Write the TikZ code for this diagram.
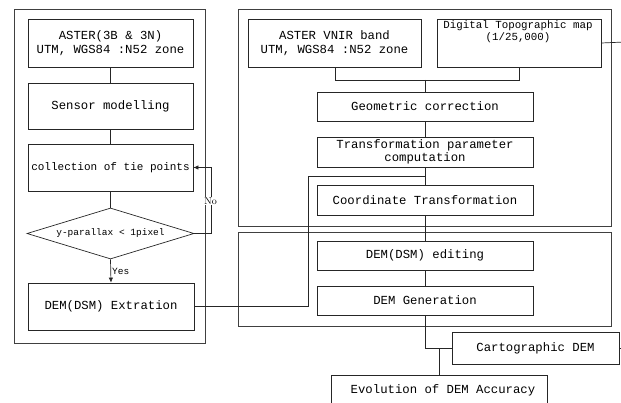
\documentclass[tikz,border=0pt]{standalone}
\usepackage{fontspec}
\setmonofont{Liberation Mono}
\usetikzlibrary{shapes.geometric,arrows.meta}
\begin{document}
\begin{tikzpicture}[x=1pt,y=-1pt,
  ln/.style={draw=black!85,line width=0.7pt},
  box/.style={ln,rectangle,inner sep=0pt,font=\ttfamily\fontsize{12.3}{14}\selectfont,align=center},
  frame/.style={draw=black!75,line width=0.8pt,rectangle,inner sep=0pt},
  lbl/.style={font=\ttfamily\fontsize{9.5}{11}\selectfont,inner sep=1pt},
  arr/.style={ln,-{Latex[length=5pt,width=4.5pt]}}]
\useasboundingbox (0,0) rectangle (621,403);
\begin{scope}
\clip (0,0) rectangle (621,403);
% frames
\node[frame,minimum width=191pt,minimum height=334pt] (fl) at (109.5,176) {};
\node[frame,minimum width=373pt,minimum height=217pt] (fu) at (424.5,117.5) {};
\node[frame,minimum width=373pt,minimum height=94pt] (fd) at (424.5,279) {};
% left column
\node[box,minimum width=165pt,minimum height=48pt] (a1) at (110.5,43) {ASTER(3B \& 3N)\\UTM, WGS84 :N52 zone};
\node[box,minimum width=165pt,minimum height=46pt] (a2) at (110.5,106) {Sensor modelling};
\node[box,minimum width=165pt,minimum height=47pt,font=\ttfamily\fontsize{11}{13}\selectfont] (a3) at (110.5,167.5) {collection of tie points};
\node[ln,diamond,aspect=3.27,inner sep=0pt,minimum width=167pt,minimum height=51pt,font=\ttfamily\fontsize{9.5}{11}\selectfont] (dg) at (110.5,233.5) {y-parallax < 1pixel};
\node[box,minimum width=166pt,minimum height=47pt] (a5) at (111,306.5) {DEM(DSM) Extration};
\draw[ln] (a1.south) -- (a2.north);
\draw[ln] (a2.south) -- (a3.north);
\draw[ln] (a3.south) -- (dg.north);
\draw[arr] (dg.south) -- node[lbl,anchor=west,pos=0.5] (yes) {Yes} (a5.north);
\coordinate (nr) at (211,233.5);
\draw[arr] (dg.east) -- (nr) |- (a3.east);
\node[lbl,fill=white,font=\rmfamily\fontsize{10}{11}\selectfont,inner sep=0.5pt] (no) at (210.5,201) {No};
% right column
\node[box,minimum width=173pt,minimum height=48pt] (r1) at (334.5,43) {ASTER VNIR band\\UTM, WGS84 :N52 zone};
\node[box,minimum width=164pt,minimum height=48pt] (r2) at (519,43) {};
\node[font=\ttfamily\fontsize{10.8}{12}\selectfont,align=center,inner sep=0pt] (r2t) at (518,32) {Digital Topographic map\\(1/25,000)};
\coordinate (b1) at (335,80);
\coordinate (b2) at (519,80);
\coordinate (b3) at (425,80);
\draw[ln] (r1.south -| b1) -- (b1) -- (b2) -- (r2.south);
\node[box,minimum width=216pt,minimum height=29pt] (g1) at (425,106.5) {Geometric correction};
\draw[ln] (b3) -- (g1.north);
\node[box,minimum width=216pt,minimum height=30pt,font=\ttfamily\fontsize{12.3}{12.5}\selectfont] (g2) at (425,152) {Transformation parameter\\computation};
\node[box,minimum width=216pt,minimum height=30pt] (g3) at (425,200) {Coordinate Transformation};
\node[box,minimum width=216pt,minimum height=29pt] (g4) at (425,255.5) {DEM(DSM) editing};
\node[box,minimum width=216pt,minimum height=29pt] (g5) at (425,300.5) {DEM Generation};
\draw[ln] (g1.south) -- (g2.north);
\draw[ln] (g2.south) -- (g3.north);
\draw[ln] (g3.south) -- (g4.north);
\draw[ln] (g4.south) -- (g5.north);
\coordinate (j1) at (425,176);
\coordinate (k1) at (308,176);
\draw[ln] (a5.east) -| (k1) -- (j1);
\node[box,minimum width=167pt,minimum height=32pt] (ct) at (535.5,348.5) {Cartographic DEM};
\draw[ln] (g5.south) |- (ct.west);
\coordinate (j2) at (439,348.5);
\node[box,minimum width=216pt,minimum height=50pt,anchor=north] (ev) at (439,375) {};
\node[font=\ttfamily\fontsize{12.3}{14}\selectfont,inner sep=0pt] (evt) at (443,390) {Evolution of DEM Accuracy};
\draw[ln] (j2) -- (ev.north);
\coordinate (e1) at (625,42);
\coordinate (e2) at (625,348.5);
\draw[ln] (r2.east) -- (e1);
\draw[ln] (ct.east) -- (e2);
\end{scope}
\end{tikzpicture}
\end{document}
